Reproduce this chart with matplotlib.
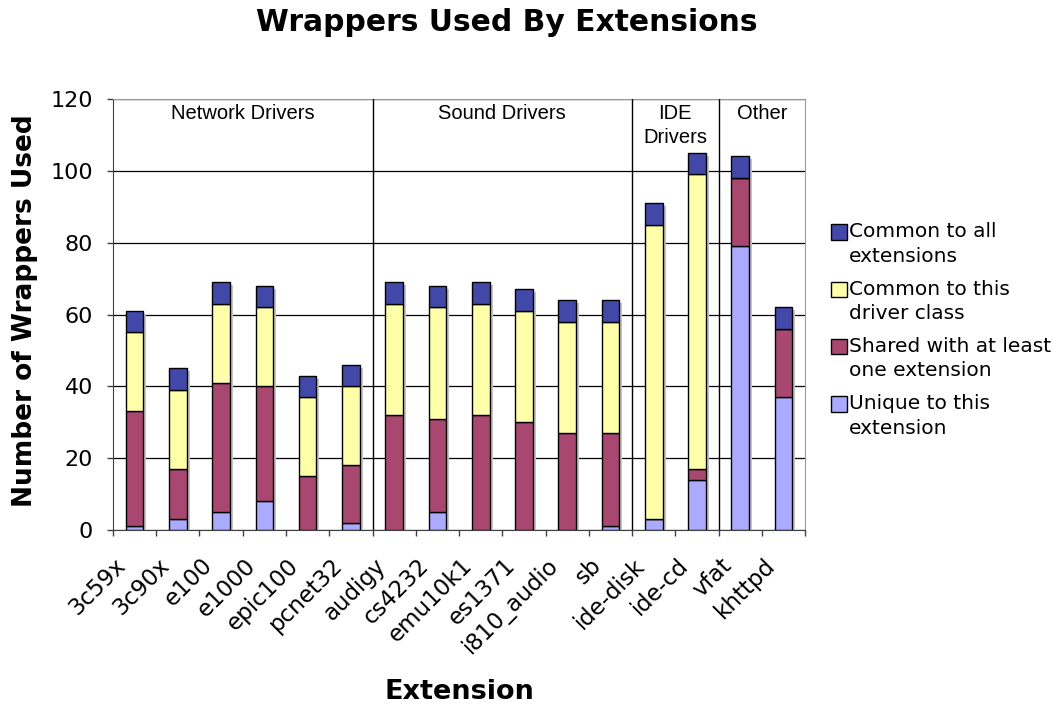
import numpy as np
import matplotlib.pyplot as plt
from matplotlib.transforms import offset_copy
from matplotlib.patches import Patch, Rectangle
from matplotlib.legend_handler import HandlerPatch

extensions = ['3c59x', '3c90x', 'e100', 'e1000', 'epic100', 'pcnet32',
              'audigy', 'cs4232', 'emu10k1', 'es1371', 'i810_audio', 'sb',
              'ide-disk', 'ide-cd', 'vfat', 'khttpd']
unique = [1, 3, 5, 8, 0, 2, 0, 5, 0, 0, 0, 1, 3, 14, 79, 37]
shared = [32, 14, 36, 32, 15, 16, 32, 26, 32, 30, 27, 26, 0, 3, 19, 19]
common_class = [22, 22, 22, 22, 22, 22, 31, 31, 31, 31, 31, 31, 82, 82, 0, 0]
common_all = [6, 6, 6, 6, 6, 6, 6, 6, 6, 6, 6, 6, 6, 6, 6, 6]

groups = ['Network Drivers', 'Sound Drivers', 'IDE\nDrivers', 'Other']
group_sizes = [6, 6, 2, 2]

series = [
    ('Unique to this\nextension', unique, '#aaaaff'),
    ('Shared with at least\none extension', shared, '#a84870'),
    ('Common to this\ndriver class', common_class, '#ffffaa'),
    ('Common to all\nextensions', common_all, '#4248a8'),
]

fig = plt.figure(figsize=(10.54, 7.05), dpi=100)
ax = fig.add_axes([0.1072, 0.2482, 0.6566, 0.6114])

x = np.arange(len(extensions))
width = 0.41
totals = np.sum([s[1] for s in series], axis=0)

# drop shadow behind each stack
shadow = offset_copy(ax.transData, fig=fig, x=3, y=-3, units='dots')
ax.bar(x, totals, width, color='#c4c4c4', edgecolor='none',
       transform=shadow, zorder=2)

bottom = np.zeros(len(extensions))
for name, vals, col in series:
    ax.bar(x, vals, width, bottom=bottom, color=col, edgecolor='black',
           linewidth=1.0, zorder=3)
    bottom += np.array(vals)

ax.set_xlim(-0.5, len(extensions) - 0.5)
ax.set_ylim(0, 120)
ax.set_yticks(range(0, 121, 20))
ax.yaxis.grid(True, color='black', linewidth=0.9)
ax.set_axisbelow(True)

# rotated names sit a little left of the bar centres
ax.set_xticks(x - 0.28)
ax.set_xticklabels(extensions, rotation=45, ha='right', va='center',
                   rotation_mode='anchor', fontsize=16.5)
ax.set_xticks(np.arange(len(extensions) + 1) - 0.5, minor=True)
ax.tick_params(axis='x', which='major', length=0, pad=23)
ax.tick_params(axis='x', which='minor', length=4.5, width=1, color='#404040')
ax.tick_params(axis='y', length=4.5, width=1, color='#404040', labelsize=16,
               pad=10)

for side in ['left', 'bottom']:
    ax.spines[side].set_color('#404040')
for side in ['top', 'right']:
    ax.spines[side].set_color('#999999')

# group separators and headings
start = 0
for i, (g, n) in enumerate(zip(groups, group_sizes)):
    if i > 0:
        ax.axvline(start - 0.5, color='black', linewidth=1, zorder=4)
    ax.text(start - 0.5 + n / 2, 118.5, g, ha='center', va='top',
            fontsize=14.5, family='Liberation Sans', linespacing=1.3)
    start += n

ax.set_xlabel('Extension', fontsize=19.5, fontweight='bold')
ax.xaxis.set_label_coords(0.5, -0.345)
ax.set_ylabel('Number of Wrappers Used', fontsize=19, fontweight='bold')
ax.yaxis.set_label_coords(-0.108, 0.51)
fig.text(0.481, 0.968, 'Wrappers Used By Extensions', fontsize=21.4,
         fontweight='bold', ha='center', va='center')


def first_line_square(legend, orig_handle, xdescent, ydescent, width, height,
                      fontsize):
    # put the swatch beside the first line of a two-line label
    return Rectangle((-xdescent, -ydescent + fontsize * 0.62), width, height)


handles = [Patch(facecolor=col, edgecolor='black', label=name)
           for name, vals, col in reversed(series)]
leg = fig.legend(handles=handles, loc='upper left',
                 bbox_to_anchor=(0.781, 0.696), frameon=False, fontsize=14.5,
                 handlelength=0.8, handleheight=0.8, handletextpad=0.1,
                 labelspacing=0.7, borderaxespad=0,
                 handler_map={Patch: HandlerPatch(patch_func=first_line_square)})
for t in leg.get_texts():
    t.set_linespacing(1.35)

fig.savefig('out.png', dpi=100)
